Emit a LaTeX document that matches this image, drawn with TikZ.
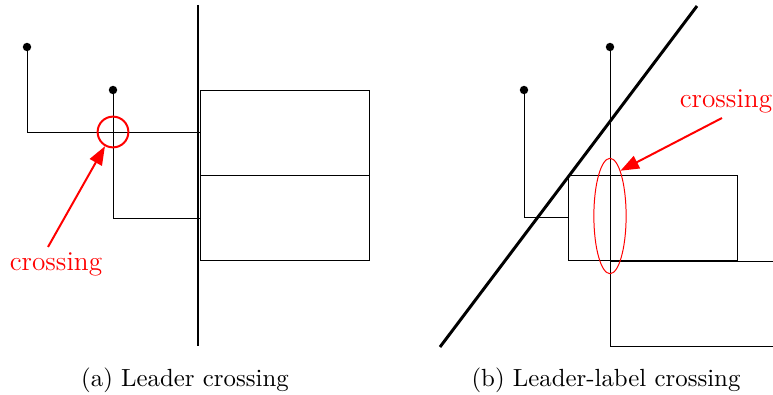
\documentclass[tikz,border=0pt]{standalone}
\usepackage{tikz}
\usetikzlibrary{arrows.meta, positioning, shapes.geometric}

\begin{document}
\begin{tikzpicture}[
  x=0.403pt, y=-0.403pt,
  site/.style={circle, fill, inner sep=0pt, minimum size=3.4pt},
  lbox/.style={rectangle, draw, inner sep=0pt, outer sep=0pt,
               minimum width=68.3pt, minimum height=34.4pt},
  leader/.style={line width=0.4pt},
  bound/.style={line width=1.2pt},
  hilite/.style={red, draw, inner sep=0pt},
  note/.style={red, font=\fontsize{11}{13}\selectfont},
  pointer/.style={red, line width=0.8pt, -{Triangle[length=7.5pt, width=5.5pt]}},
  caption/.style={font=\normalsize}
]
\useasboundingbox (0,0) rectangle (773,395);
\clip (0,0) rectangle (773,395);

% (a) leader crossing
\draw[bound] (198,5) -- (198,346);
\node[lbox, anchor=north west] (a1) at (200,90) {};
\node[lbox, below=0pt of a1] (a2) {};
\node[site] (pa1) at (27,47) {};
\node[site] (pa2) at (113,90) {};
\draw[leader] (pa1.center) |- (a1.west);
\draw[leader] (pa2.center) |- (a2.west);
\node[hilite, circle, line width=0.8pt, minimum size=12.4pt] (ca) at (113,132) {};
\node[note] (ta) at (56,264) {crossing};
\coordinate (sa) at (48,247);
\draw[pointer] (sa) -- (ca);

% (b) leader-label crossing
\draw[bound] (440,347) -- (697,6);
\node[lbox, anchor=north west] (b1) at (568,175) {};
\node[lbox, anchor=north west, minimum width=80pt] (b2) at (610,261) {};
\node[site] (pb1) at (524,90) {};
\node[site] (pb2) at (610,47) {};
\draw[leader] (pb1.center) |- (b1.west);
\draw[leader] (pb2.center) |- (b2.west);
\node[hilite, ellipse, line width=0.4pt,
      minimum width=13pt, minimum height=46.5pt] (cb) at (610,216) {};
\node[note] (tb) at (726,101) {crossing};
\coordinate (sb) at (722,118);
\draw[pointer] (sb) -- (cb.77);

% captions
\node[caption] (capa) at (185,380) {(a) Leader crossing};
\node[caption] (capb) at (606,380) {(b) Leader-label crossing};
\end{tikzpicture}
\end{document}
